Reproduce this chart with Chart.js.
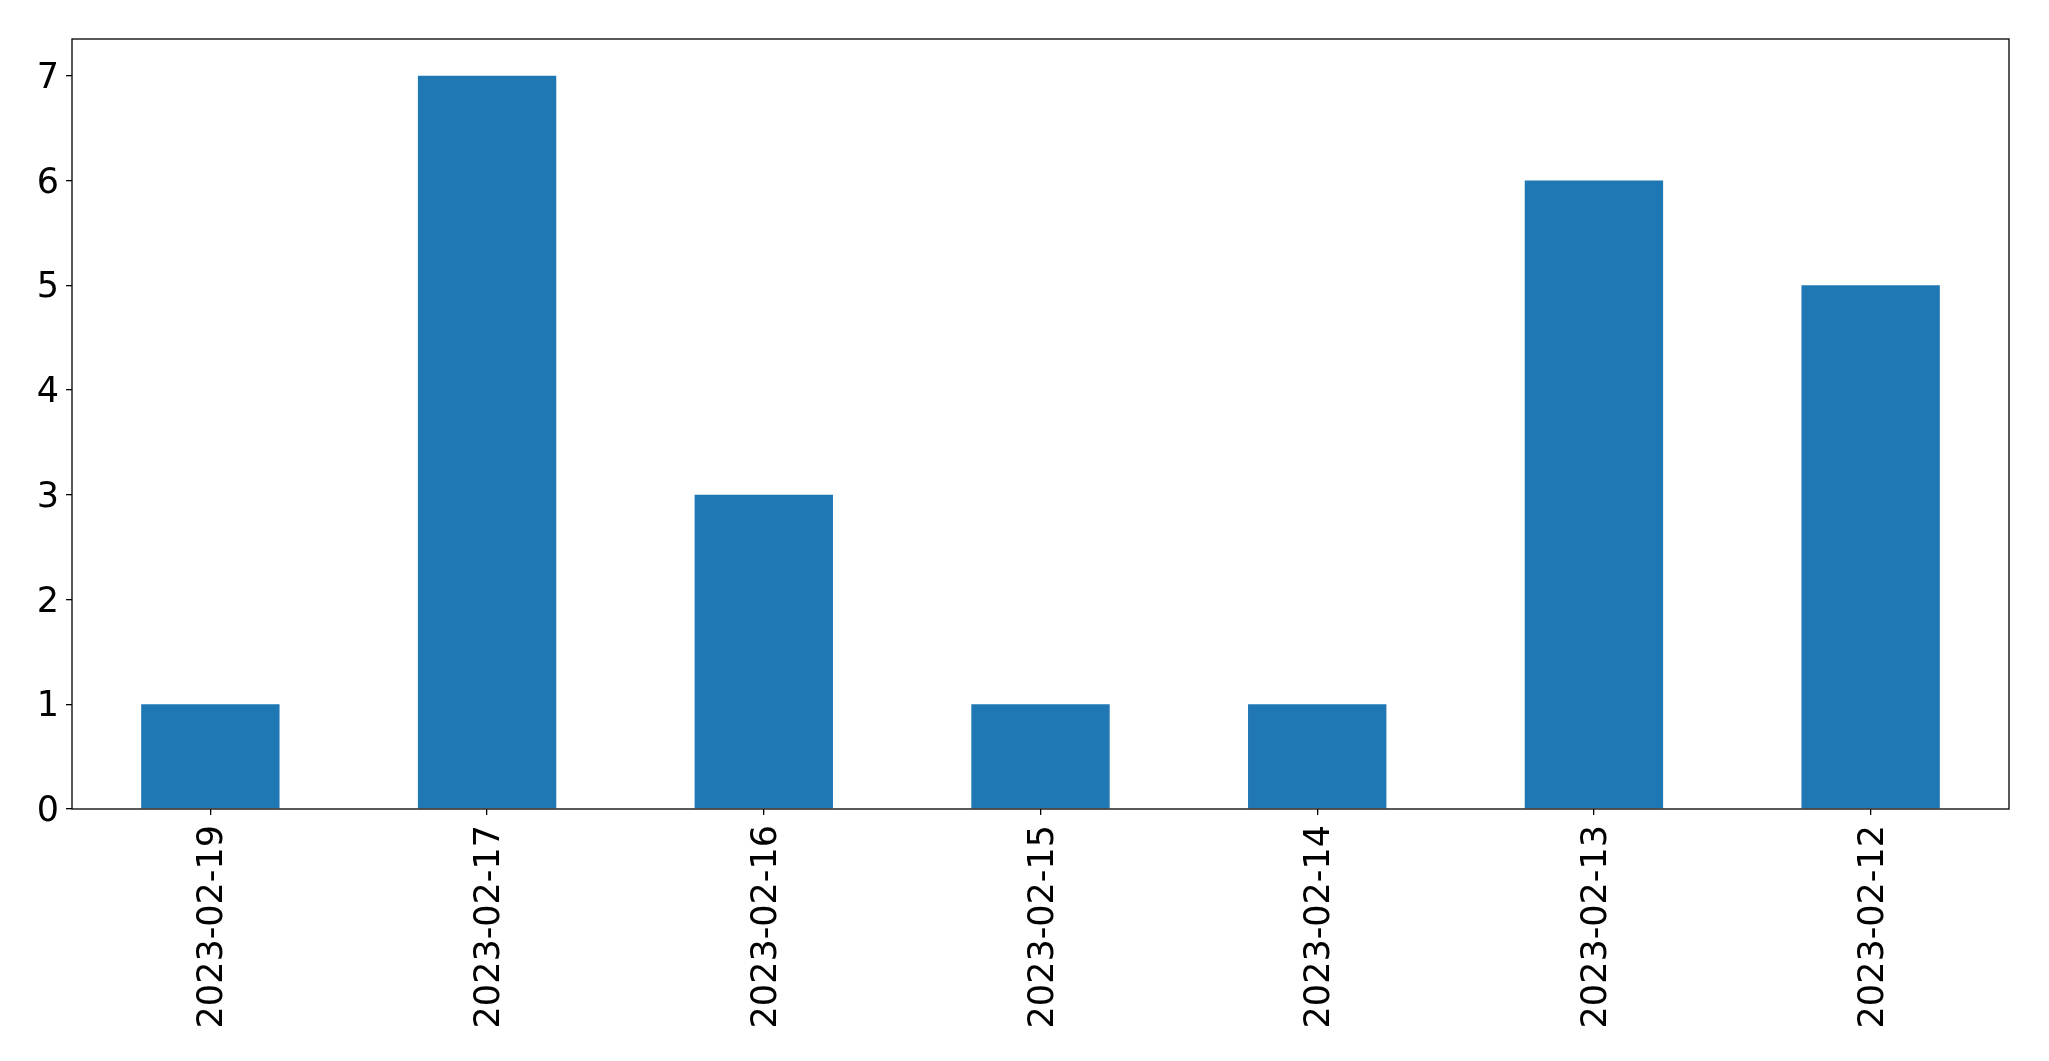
<!DOCTYPE html>
<html>
<head>
<meta charset="utf-8">
<script src="https://cdn.jsdelivr.net/npm/chart.js@4.4.0/dist/chart.umd.min.js"></script>
<style>
  html, body { margin: 0; padding: 0; background: #fff; }
  #wrap { width: 2049px; height: 1061px; }
</style>
</head>
<body>
<div id="wrap"><canvas id="chart" width="2049" height="1061"></canvas></div>
<script>
const dates = ["2023-02-19", "2023-02-17", "2023-02-16", "2023-02-15", "2023-02-14", "2023-02-13", "2023-02-12"];
const counts = [1, 7, 3, 1, 1, 6, 5];
const yTicks = [0, 1, 2, 3, 4, 5, 6, 7];

// frame around the plot area, like matplotlib spines
const boxPlugin = {
    id: "box",
    afterDraw(chart) {
        const { ctx, chartArea } = chart;
        ctx.save();
        ctx.strokeStyle = "#000";
        ctx.lineWidth = 1.3;
        ctx.strokeRect(chartArea.left, chartArea.top, chartArea.right - chartArea.left, chartArea.bottom - chartArea.top);
        ctx.restore();
    }
};

Chart.defaults.font.family = "'DejaVu Sans', sans-serif";
Chart.defaults.color = "#000";

const ctx = document.getElementById("chart").getContext("2d");
new Chart(ctx, {
    type: "bar",
    data: {
        labels: dates,
        datasets: [{
            data: counts,
            backgroundColor: "#1f77b4",
            borderWidth: 0,
            barPercentage: 0.5,
            categoryPercentage: 1.0
        }]
    },
    options: {
        responsive: false,
        animation: false,
        layout: { padding: { left: 0, right: 40, top: 39, bottom: 0 } },
        plugins: { legend: { display: false }, tooltip: { enabled: false } },
        scales: {
            x: {
                offset: true,
                grid: { display: true, drawOnChartArea: false, offset: false, tickLength: 6, color: "#000", lineWidth: 1.3 },
                border: { display: false },
                ticks: { font: { size: 35 }, maxRotation: 90, minRotation: 90, padding: 10, labelOffset: 3, autoSkip: false },
                afterFit(scale) { scale.height = 1061 - 809; }
            },
            y: {
                min: 0,
                max: 7.35,
                grid: { display: true, drawOnChartArea: false, tickLength: 6, color: "#000", lineWidth: 1.3 },
                border: { display: false },
                ticks: { font: { size: 35 }, stepSize: 1, padding: 7, labelOffset: 3 },
                afterBuildTicks(scale) { scale.ticks = yTicks.map(v => ({ value: v })); },
                afterFit(scale) { scale.width = 72; }
            }
        }
    },
    plugins: [boxPlugin]
});
</script>
</body>
</html>
